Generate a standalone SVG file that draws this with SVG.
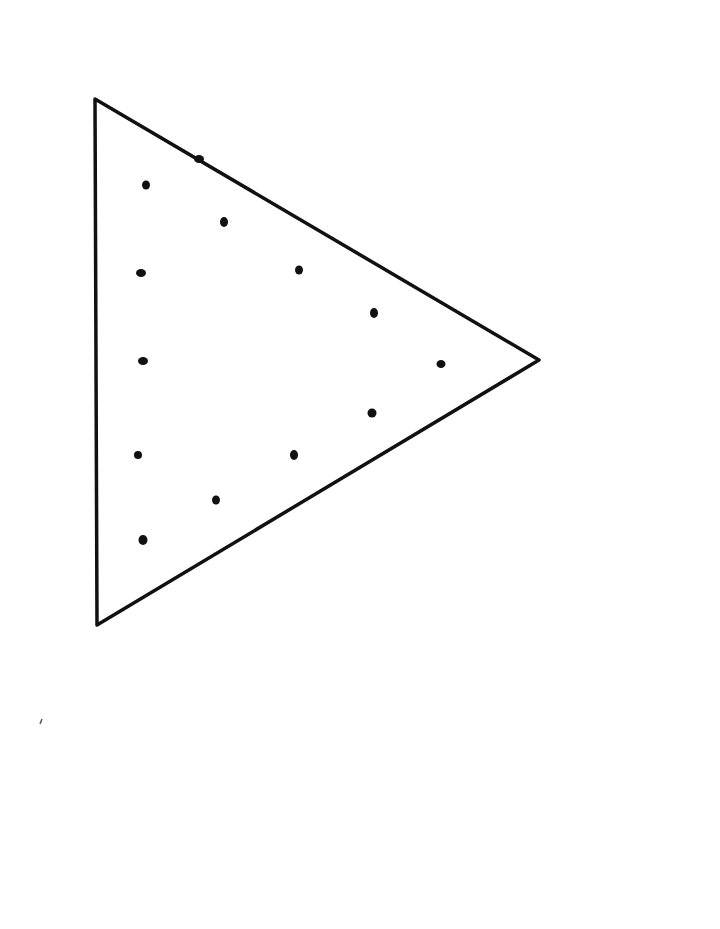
<svg xmlns="http://www.w3.org/2000/svg" width="720" height="929" viewBox="0 0 720 929">
<style>
.edge{fill:none;stroke:#111;stroke-width:3.5;stroke-linejoin:round;stroke-linecap:round}
.dot{fill:#111}
</style>
<rect width="720" height="929" fill="#fff"/>
<g id="triangle">
<path class="edge" d="M95,99 L539,360 L97,625 Z"/>
</g>
<g id="dots">
<ellipse class="dot" cx="146" cy="185" rx="4" ry="4.5"/>
<ellipse class="dot" cx="199" cy="159" rx="5" ry="4"/>
<ellipse class="dot" cx="224" cy="222" rx="4" ry="5"/>
<ellipse class="dot" cx="141" cy="273" rx="5" ry="4"/>
<ellipse class="dot" cx="299" cy="270" rx="4" ry="4.5"/>
<ellipse class="dot" cx="374" cy="313" rx="4" ry="5"/>
<ellipse class="dot" cx="143" cy="361" rx="5" ry="4"/>
<ellipse class="dot" cx="441" cy="364" rx="4.5" ry="4"/>
<ellipse class="dot" cx="372" cy="413" rx="4.5" ry="4.5"/>
<ellipse class="dot" cx="138" cy="455" rx="4" ry="4"/>
<ellipse class="dot" cx="294" cy="455" rx="4" ry="5"/>
<ellipse class="dot" cx="216" cy="500" rx="4" ry="4.5"/>
<ellipse class="dot" cx="143" cy="540" rx="4.5" ry="5"/>
</g>
<path d="M40,724 L42,719" stroke="#555" stroke-width="1.5"/>
</svg>
